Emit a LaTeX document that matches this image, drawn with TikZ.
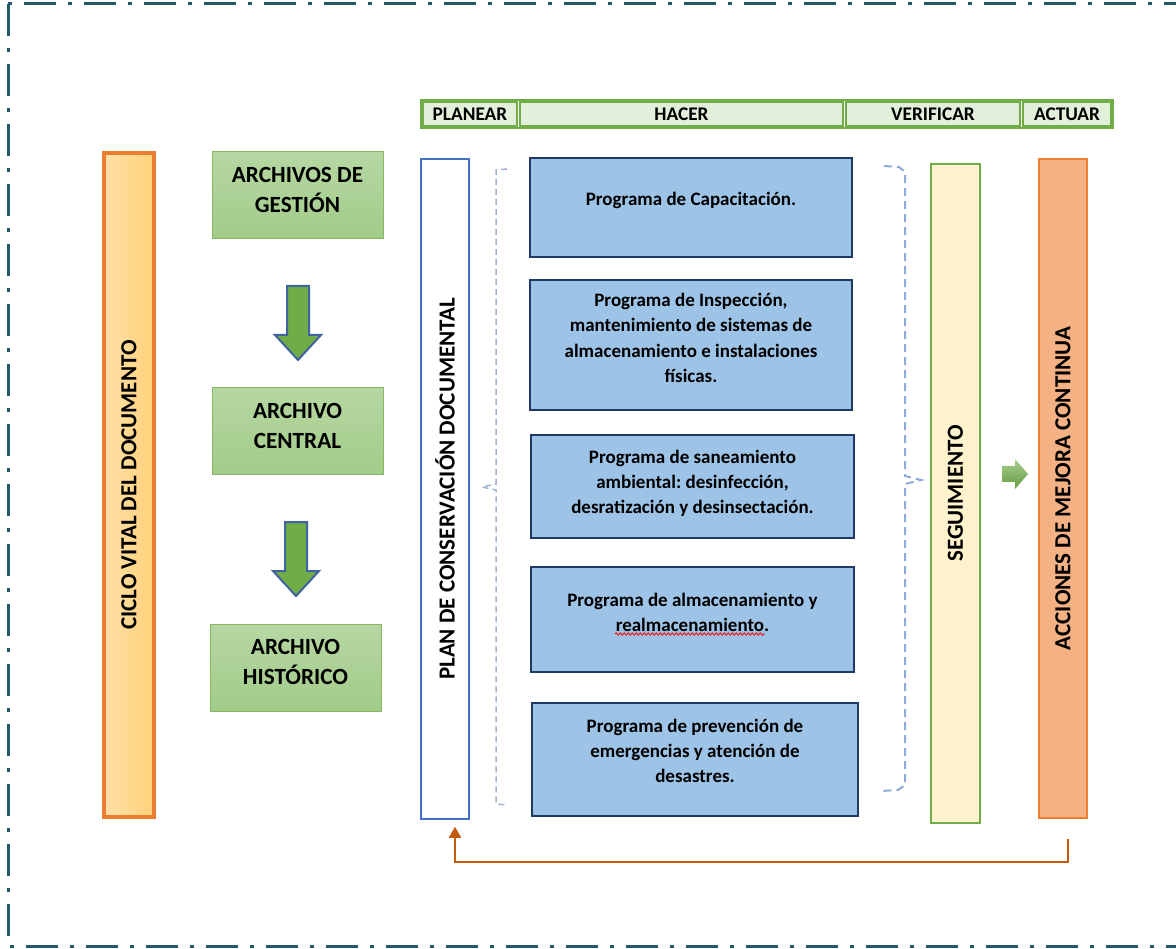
\documentclass[tikz,border=0pt]{standalone}
\usepackage{fontspec}
\setmainfont{Carlito}
\usepackage{tikz}
\usetikzlibrary{arrows.meta,decorations.pathmorphing}
\frenchspacing

\definecolor{framecol}{HTML}{235B68}
\definecolor{hdrfill}{HTML}{E2EFDA}
\definecolor{leafgreen}{HTML}{70AD47}
\definecolor{archtop}{HTML}{B6D7A2}
\definecolor{archbot}{HTML}{A2CB89}
\definecolor{orangeline}{HTML}{ED7D31}
\definecolor{cicloleft}{HTML}{FFE0A6}
\definecolor{cicloright}{HTML}{FFD27A}
\definecolor{progblue}{HTML}{9DC3E6}
\definecolor{progline}{HTML}{203864}
\definecolor{planline}{HTML}{4472C4}
\definecolor{creamfill}{HTML}{FFF2CC}
\definecolor{peachfill}{HTML}{F4B183}
\definecolor{arrowline}{HTML}{3F64A0}
\definecolor{backline}{HTML}{C55A11}
\definecolor{braceA}{HTML}{9FB3CF}
\definecolor{braceB}{HTML}{8FAADC}

\newcommand\dropstrut[1]{\rule[-#1pt]{0pt}{#1pt}}

\begin{document}
\begin{tikzpicture}[x=1pt, y=-1pt,
  hdr/.style={draw=leafgreen, line width=1.5pt, fill=hdrfill, minimum height=24pt, inner sep=0pt, font=\bfseries\fontsize{19.3}{23}\selectfont},
  archbox/.style={draw=leafgreen!85, line width=1pt, top color=archtop, bottom color=archbot, minimum width=171pt, minimum height=87pt, align=center, font=\bfseries\fontsize{23.2}{30}\selectfont},
  progbox/.style={draw=progline, line width=2.5pt, fill=progblue, align=center, font=\bfseries\fontsize{19}{25.3}\selectfont},
  bar/.style={rotate=90, inner sep=0pt, font=\bfseries\fontsize{23}{28}\selectfont},
  downarrow/.pic={\draw[draw=arrowline, line width=2pt, fill=leafgreen] (-11,0) -- (11,0) -- (11,49) -- (23,49) -- (0,74) -- (-23,49) -- (-11,49) -- cycle;},
  rightarrow/.pic={\shade[top color=leafgreen!60, bottom color=leafgreen!90!black] (0,-8) -- (13,-8) -- (13,-15) -- (26,0) -- (13,15) -- (13,8) -- (0,8) -- cycle;}]
  \useasboundingbox (0,0) rectangle (1176,949);
  \draw[framecol, line width=3pt, dash pattern=on 32pt off 12pt on 4pt off 12pt] (8,4) rectangle (1190,946);

  \draw[leafgreen, line width=2pt] (421,100) rectangle (1113,128);
  \node (planear) [hdr, minimum width=94pt] at (470,114) {PLANEAR};
  \node (hacer) [hdr, minimum width=323pt] at (681.5,114) {HACER};
  \node (verificar) [hdr, minimum width=174pt] at (933,114) {VERIFICAR};
  \node (actuar) [hdr, minimum width=88pt] at (1067,114) {ACTUAR};

  \node (ciclo) [bar, draw=orangeline, line width=3.5pt, left color=cicloleft, right color=cicloright, minimum width=664pt, minimum height=50pt] at (129,485) {CICLO VITAL DEL DOCUMENTO};

  \node (gestion) [archbox] at (297.5,195.5) {ARCHIVOS DE\\GESTIÓN\dropstrut{12}};
  \node (central) [archbox] at (297.5,431.5) {ARCHIVO\\CENTRAL\dropstrut{12}};
  \node (historico) [archbox] at (295.5,667.5) {ARCHIVO\\HISTÓRICO\dropstrut{12}};
  \pic at (298,286) {downarrow};
  \pic at (296,522) {downarrow};

  \node (plan) [bar, draw=planline, line width=1.5pt, fill=white, minimum width=660pt, minimum height=48pt] at (445,489) {PLAN DE CONSERVACIÓN DOCUMENTAL};

  \draw[braceA, line width=1.5pt, dash pattern=on 6pt off 4pt] (507,169) -- (496,170) -- (496,484) -- (482,487) -- (496,490) -- (496,804) -- (507,805);
  \draw[braceB, line width=2pt, dash pattern=on 8pt off 5pt] (884,166) -- (899,167) -- (905,172) -- (905,476) -- (921,480) -- (905,484) -- (905,785) -- (898,790) -- (881,791);

  \node (capacita) [progbox, minimum width=322pt, minimum height=99pt] at (691,207.5) {Programa de Capacitación.\dropstrut{17}};
  \node (inspecc) [progbox, minimum width=322pt, minimum height=130pt] at (691,345) {Programa de Inspección,\\mantenimiento de sistemas de\\almacenamiento e instalaciones\\físicas.\dropstrut{14.5}};
  \node (sanea) [progbox, minimum width=323pt, minimum height=103pt] at (692.5,486.5) {Programa de saneamiento\\ambiental: desinfección,\\desratización y desinsectación.\dropstrut{9.5}};
  \node (almacen) [progbox, minimum width=323pt, minimum height=105pt] at (692.5,619.5) {Programa de almacenamiento y\\realmacenamiento.\dropstrut{15}};
  \node (emerg) [progbox, minimum width=326pt, minimum height=113pt] at (695,759.5) {Programa de prevención de\\emergencias y atención de\\desastres.\dropstrut{17.5}};
  \draw[red, line width=0.8pt, decorate, decoration={snake, amplitude=1.2pt, segment length=4pt}] (615,634) -- (765,634);

  \node (seguim) [bar, draw=leafgreen, line width=2pt, fill=creamfill, minimum width=659pt, minimum height=49pt] at (955.5,493.5) {SEGUIMIENTO};
  \pic at (1002,474) {rightarrow};
  \node (acciones) [bar, draw=orangeline, line width=2pt, fill=peachfill, minimum width=659pt, minimum height=48pt] at (1063,488.5) {ACCIONES DE MEJORA CONTINUA};

  \draw[backline, line width=2pt, -{Triangle[width=12pt,length=11pt]}] ([xshift=5pt,yshift=-20pt]acciones.west) -- ++(0,23) -| ([xshift=10pt,yshift=-7pt]plan.west);
\end{tikzpicture}
\end{document}
